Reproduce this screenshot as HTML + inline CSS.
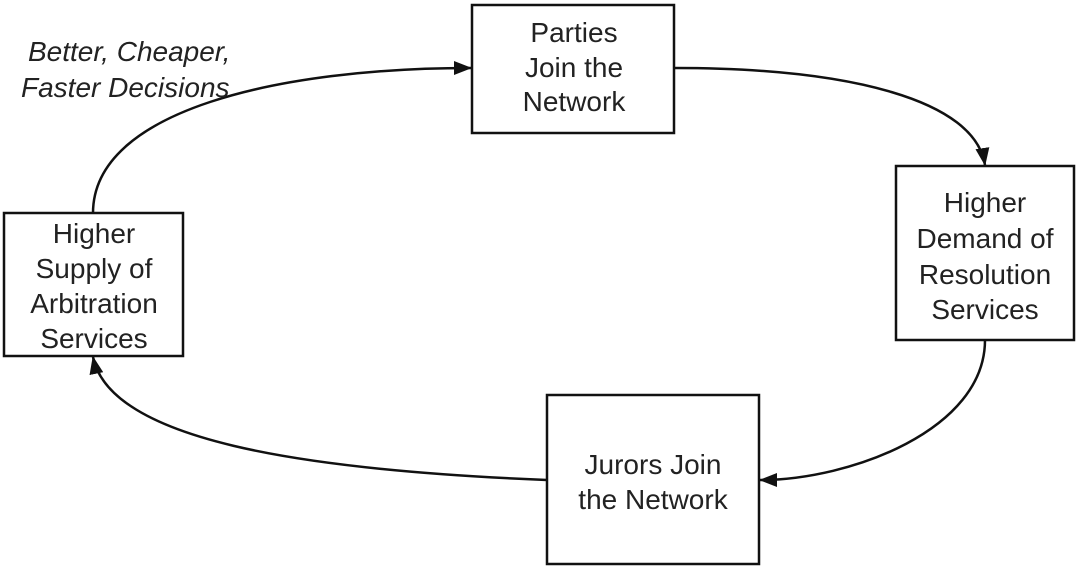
<!DOCTYPE html>
<html><head><meta charset="utf-8"><style>
html,body{margin:0;padding:0;background:#fff;}
svg{display:block;}
text{font-family:"Liberation Sans",sans-serif;font-size:28px;fill:#222;}
</style></head><body>
<svg width="1080" height="568" viewBox="0 0 1080 568">
<defs>
<marker id="a" markerWidth="18" markerHeight="14" refX="17" refY="7" orient="auto" markerUnits="userSpaceOnUse">
<path d="M0,0 L18,7 L0,14 Z" fill="#111"/>
</marker>
</defs>
<g fill="none" stroke="#111" stroke-width="2.5">
<path d="M93,213 C93,110 280,68 471,68" marker-end="url(#a)"/>
<path d="M674,68 C850,68 975,100 985,165" marker-end="url(#a)"/>
<path d="M985,340 C985,430 850,480 760,480" marker-end="url(#a)"/>
<path d="M547,480 C300,470 110,440 93,357" marker-end="url(#a)"/>
<rect x="472" y="5" width="202" height="128" fill="#fff"/>
<rect x="896" y="166" width="178" height="174" fill="#fff"/>
<rect x="547" y="395" width="212" height="169" fill="#fff"/>
<rect x="4" y="213" width="179" height="143" fill="#fff"/>
</g>
<g text-anchor="middle">
<text x="574" y="42">Parties</text>
<text x="574" y="77">Join the</text>
<text x="574" y="111">Network</text>
<text x="985" y="212">Higher</text>
<text x="985" y="248">Demand of</text>
<text x="985" y="284">Resolution</text>
<text x="985" y="319">Services</text>
<text x="653" y="474">Jurors Join</text>
<text x="653" y="509">the Network</text>
<text x="94" y="243">Higher</text>
<text x="94" y="278">Supply of</text>
<text x="94" y="313">Arbitration</text>
<text x="94" y="348">Services</text>
</g>
<text x="28" y="61" font-style="italic">Better, Cheaper,</text>
<text x="21" y="97" font-style="italic">Faster Decisions</text>
</svg>
</body></html>
